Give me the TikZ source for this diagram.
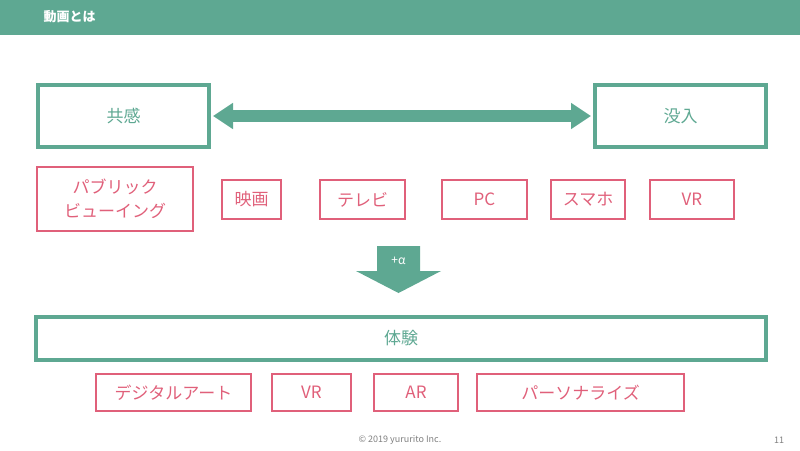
\documentclass[tikz,border=0pt]{standalone}
\usepackage{fontspec}
\setmainfont{Noto Sans CJK JP}
\usetikzlibrary{arrows.meta}
\definecolor{teal1}{RGB}{94,168,146}
\definecolor{pink1}{RGB}{224,96,122}
\begin{document}
\begin{tikzpicture}[x=1pt,y=-1pt,
  big/.style={draw=teal1,line width=4pt,text=teal1,font=\fontsize{17}{20}\selectfont},
  sm/.style={draw=pink1,line width=1.3pt,text=pink1,font=\fontsize{17}{24}\selectfont,align=center}]
\useasboundingbox (0,0) rectangle (800,450);
\fill[teal1] (0,0) rectangle (800,35);
\node[text=white,font=\fontsize{13}{15}\selectfont\bfseries,anchor=west] (title) at (40,17) {動画とは};
\node[big,minimum width=171pt,minimum height=62pt] (kyo) at (123.5,116) {共感};
\node[big,minimum width=171pt,minimum height=62pt] (bot) at (680.5,116) {没入};
\draw[teal1,line width=12pt,{Triangle[length=20pt,width=25pt]}-{Triangle[length=20pt,width=25pt]}] ([xshift=2pt]kyo.east) -- ([xshift=-2pt]bot.west);
\node[sm,minimum width=156pt,minimum height=64pt] (pv) at (115,199) {パブリック\\ビューイング};
\node[sm,minimum width=59pt,minimum height=39pt] (eiga) at (251.5,199.5) {映画};
\node[sm,minimum width=85pt,minimum height=39pt] (tv) at (362.5,199.5) {テレビ};
\node[sm,minimum width=85pt,minimum height=39pt] (pc) at (484.5,199.5) {PC};
\node[sm,minimum width=74pt,minimum height=39pt] (sp) at (588,199.5) {スマホ};
\node[sm,minimum width=84pt,minimum height=39pt] (vr1) at (692,199.5) {VR};
\fill[teal1] (377,246) -- (420,246) -- (420,271) -- (441,271) -- (398.5,293) -- (356,271) -- (377,271) -- cycle;
\node[text=white,font=\fontsize{12}{14}\selectfont] (alpha) at (398.5,261) {+α};
\node[big,minimum width=730pt,minimum height=43pt] (tai) at (401,338.5) {体験};
\node[sm,minimum width=155pt,minimum height=37pt] (da) at (173.5,392.5) {デジタルアート};
\node[sm,minimum width=79pt,minimum height=37pt] (vr2) at (311.5,392.5) {VR};
\node[sm,minimum width=84pt,minimum height=37pt] (ar) at (416,392.5) {AR};
\node[sm,minimum width=207pt,minimum height=37pt] (pa) at (580.5,392.5) {パーソナライズ};
\node[text=gray,font=\fontsize{9}{11}\selectfont] (copy) at (400,440) {© 2019 yururito Inc.};
\node[text=gray,font=\fontsize{9}{11}\selectfont] (pg) at (779,440) {11};
\end{tikzpicture}
\end{document}
